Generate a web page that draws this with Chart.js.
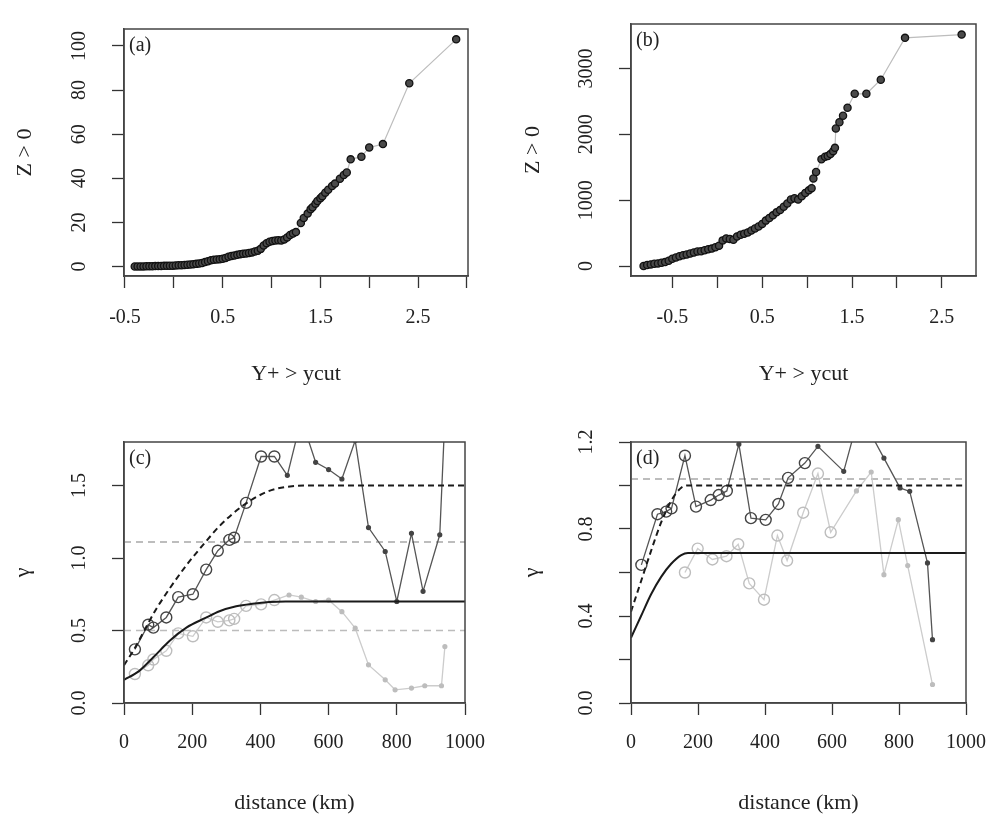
<!DOCTYPE html>
<html>
<head>
<meta charset="utf-8">
<script src="https://cdn.jsdelivr.net/npm/chart.js@4.4.1/dist/chart.umd.min.js"></script>
<style>
html,body{margin:0;padding:0;background:#fff;}
#wrap{position:relative;width:1002px;height:818px;overflow:hidden;background:#fff;}
canvas{position:absolute;}
</style>
</head>
<body>
<div id="wrap">
<canvas id="ca" width="501" height="409" style="left:0;top:0"></canvas>
<canvas id="cb" width="501" height="409" style="left:501px;top:0"></canvas>
<canvas id="cc" width="501" height="409" style="left:0;top:409px"></canvas>
<canvas id="cd" width="501" height="409" style="left:501px;top:409px"></canvas>
</div>
<script>
// ---------------- data: panel (a) ----------------
const aX = [-0.40,-0.37,-0.34,-0.31,-0.28,-0.25,-0.22,-0.19,-0.16,-0.13,-0.10,-0.07,-0.04,-0.01,0.02,0.05,0.08,0.11,0.14,0.17,0.20,0.23,0.26,0.29,0.32,0.35,0.38,0.41,0.44,0.47,0.50,0.53,0.56,0.59,0.62,0.65,0.68,0.71,0.74,0.77,0.80,0.83,0.86,0.89,0.92,0.95,0.98,1.01,1.04,1.07,1.10,1.13,1.16,1.19,1.22,1.25,1.30,1.33,1.37,1.40,1.42,1.45,1.47,1.50,1.52,1.55,1.58,1.62,1.65,1.70,1.74,1.77,1.81,1.92,2.00,2.14,2.41,2.89];
const aZ = [0.0,0.0,0.05,0.05,0.1,0.1,0.15,0.2,0.2,0.25,0.3,0.3,0.35,0.4,0.5,0.55,0.6,0.7,0.8,0.9,1.0,1.2,1.4,1.6,2.0,2.4,2.8,3.1,3.2,3.3,3.5,3.9,4.4,4.8,5.0,5.3,5.6,5.8,5.9,6.1,6.4,6.8,7.2,8.0,9.5,10.6,11.2,11.6,11.8,11.9,11.8,12.3,13.2,14.3,15.0,15.6,19.7,22.0,24.0,26.0,26.9,28.5,29.7,31.0,31.9,33.5,34.8,36.5,37.6,39.8,41.5,42.6,48.6,49.8,54.0,55.5,83.1,103.0];
const xTicksA = [-0.5,0,0.5,1,1.5,2,2.5,3];
const xLabelsA = ['-0.5','','0.5','','1.5','','2.5',''];
const yTicksA = [0,20,40,60,80,100];
const yLabelsA = ['0','20','40','60','80','100'];

// ---------------- data: panel (b) ----------------
const bX = [-0.82,-0.78,-0.74,-0.70,-0.66,-0.62,-0.58,-0.54,-0.50,-0.46,-0.42,-0.38,-0.34,-0.30,-0.26,-0.22,-0.18,-0.14,-0.10,-0.06,-0.02,0.02,0.06,0.10,0.14,0.18,0.22,0.26,0.30,0.34,0.38,0.42,0.46,0.50,0.54,0.58,0.62,0.66,0.70,0.74,0.78,0.82,0.86,0.90,0.94,0.98,1.02,1.05,1.07,1.10,1.16,1.20,1.23,1.26,1.29,1.31,1.32,1.36,1.40,1.45,1.53,1.66,1.82,2.09,2.72];
const bZ = [0,15,25,35,40,50,60,80,110,130,150,165,175,190,205,220,225,240,255,265,285,310,390,420,410,400,450,475,490,510,540,570,600,640,690,730,770,816,850,900,950,1010,1030,1010,1060,1110,1150,1183,1330,1428,1623,1660,1672,1700,1745,1795,2088,2185,2283,2405,2616,2616,2830,3466,3515];
const xTicksB = [-0.5,0,0.5,1,1.5,2,2.5];
const xLabelsB = ['-0.5','','0.5','','1.5','','2.5'];
const yTicksB = [0,1000,2000,3000];
const yLabelsB = ['0','1000','2000','3000'];

// ---------------- data: panel (c) ----------------
const darkDistC  = [32,71,86,124,159,202,241,275,309,323,358,402,441,479,520,562,600,639,678,717,766,800,843,877,926,960];
const darkGammaC = [0.37,0.54,0.52,0.59,0.73,0.75,0.92,1.05,1.125,1.14,1.38,1.70,1.70,1.57,1.96,1.66,1.61,1.545,1.81,1.21,1.045,0.70,1.17,0.77,1.16,3.0];
const grayDistC  = [32,71,86,124,159,202,241,275,309,323,358,402,441,484,520,562,600,639,678,717,766,795,843,882,931,941];
const grayGammaC = [0.20,0.26,0.30,0.36,0.48,0.46,0.59,0.56,0.57,0.58,0.67,0.68,0.71,0.745,0.73,0.70,0.71,0.63,0.516,0.263,0.16,0.091,0.103,0.119,0.119,0.389];
const dashDistC  = [0,32,71,95,134,183,239,280,348,423,493,552,600,1000];
const dashGammaC = [0.26,0.38,0.55,0.65,0.79,0.95,1.11,1.22,1.36,1.46,1.495,1.50,1.50,1.50];
const solidDistC  = [0,44,86,134,183,239,280,329,377,426,474,520,1000];
const solidGammaC = [0.16,0.22,0.315,0.43,0.52,0.587,0.633,0.667,0.685,0.697,0.70,0.70,0.70];
const varLinesC = [1.11,0.50];
const xTicksCD = [0,200,400,600,800,1000];
const xLabelsCD = ['0','200','400','600','800','1000'];
const yTicksC = [0,0.5,1.0,1.5];
const yLabelsC = ['0.0','0.5','1.0','1.5'];

// ---------------- data: panel (d) ----------------
const darkDistD  = [31,79,105,121,161,194,238,262,286,322,358,402,440,469,519,558,635,680,715,755,803,832,885,900];
const darkGammaD = [0.635,0.868,0.88,0.895,1.137,0.903,0.933,0.956,0.975,1.19,0.85,0.842,0.915,1.035,1.103,1.18,1.065,1.32,1.24,1.126,0.989,0.973,0.644,0.291];
const grayDistD  = [161,199,243,285,320,353,397,437,466,514,558,596,673,717,755,798,826,900];
const grayGammaD = [0.60,0.71,0.66,0.675,0.73,0.55,0.475,0.77,0.655,0.875,1.055,0.785,0.975,1.062,0.59,0.843,0.632,0.085];
const dashDistD  = [0,30,60,90,120,150,170,1000];
const dashGammaD = [0.42,0.56,0.70,0.83,0.93,0.99,1.0,1.0];
const solidDistD  = [0,30,60,90,120,150,170,1000];
const solidGammaD = [0.30,0.40,0.50,0.58,0.64,0.68,0.69,0.69];
const varLinesD = [1.03];
const yTicksD = [0,0.2,0.4,0.6,0.8,1.0,1.2];
const yLabelsD = ['0.0','','0.4','','0.8','','1.2'];

// ---------------- rendering ----------------
const SERIF = '"Liberation Serif", "Times New Roman", Times, serif';
Chart.defaults.font.family = SERIF;
Chart.defaults.color = '#222';
Chart.defaults.animation = false;

const zip = (xs, ys) => xs.map((x, i) => ({x: x, y: ys[i]}));

const boxPlugin = {
  id: 'rbox',
  afterDraw(chart, args, opts) {
    const {ctx, chartArea: a} = chart;
    ctx.save();
    ctx.strokeStyle = '#444';
    ctx.lineWidth = 1.5;
    ctx.strokeRect(a.left, a.top, a.right - a.left, a.bottom - a.top);
    ctx.font = '20px ' + SERIF;
    ctx.fillStyle = '#222';
    ctx.textBaseline = 'alphabetic';
    ctx.textAlign = 'left';
    ctx.fillText(opts.label, a.left + 5, a.top + 22);
    ctx.restore();
  }
};

function scaleX(p) {
  return {
    type: 'linear', position: 'bottom', min: p.xmin, max: p.xmax,
    afterBuildTicks: s => { s.ticks = p.xticks.map(v => ({value: v})); },
    afterFit: s => { s.height = p.xh; },
    ticks: {autoSkip: false, maxRotation: 0, minRotation: 0, padding: p.xtp,
            font: {size: 20}, color: '#222', callback: (v, i) => p.xlabels[i]},
    grid: {drawOnChartArea: false, drawTicks: true, tickLength: 12, tickColor: '#333', tickWidth: 1.3},
    border: {display: true, color: '#444', width: 1.5},
    title: {display: true, text: p.xtitle, font: {size: 22}, color: '#222', padding: {top: 0, bottom: p.xttp}}
  };
}
function scaleY(p) {
  return {
    type: 'linear', position: 'left', min: p.ymin, max: p.ymax,
    afterBuildTicks: s => { s.ticks = p.yticks.map(v => ({value: v})); },
    afterFit: s => { s.width = p.yw; },
    ticks: {autoSkip: false, minRotation: 90, maxRotation: 90, crossAlign: 'center', padding: p.ytp,
            font: {size: 20}, color: '#222', callback: (v, i) => p.ylabels[i]},
    grid: {drawOnChartArea: false, drawTicks: true, tickLength: 12, tickColor: '#333', tickWidth: 1.3},
    border: {display: true, color: '#444', width: 1.5},
    title: {display: true, text: p.ytitle, font: {size: 22}, color: '#222', padding: {top: p.yttp, bottom: 0}}
  };
}

function dotsDs(xs, ys) {
  return {data: zip(xs, ys), showLine: true, borderColor: '#bdbdbd', borderWidth: 1.2,
          pointRadius: 3.6, pointBackgroundColor: '#4a4a4a', pointBorderColor: '#111',
          pointBorderWidth: 1.3, pointHoverRadius: 3.6};
}
function seriesDs(xs, ys, color, lineColor, nCircles, smallSet, rad) {
  const isCircle = c => c.dataIndex < nCircles && !smallSet.includes(c.dataIndex);
  return {data: zip(xs, ys), showLine: true, borderColor: lineColor, borderWidth: 1.3,
          pointRadius: c => isCircle(c) ? rad : 1.9,
          pointHoverRadius: c => isCircle(c) ? rad : 1.9,
          pointBackgroundColor: c => isCircle(c) ? 'rgba(255,255,255,0)' : color,
          pointBorderColor: color, pointBorderWidth: 1.4};
}
function curveDs(xs, ys, color, width, dash) {
  return {data: zip(xs, ys), showLine: true, borderColor: color, borderWidth: width,
          borderDash: dash, pointRadius: 0, pointHoverRadius: 0,
          cubicInterpolationMode: 'monotone', fill: false};
}
function hlineDs(v, xmin, xmax, color, dash) {
  return {data: [{x: xmin, y: v}, {x: xmax, y: v}], showLine: true, borderColor: color,
          borderWidth: 1.6, borderDash: dash, pointRadius: 0, pointHoverRadius: 0, fill: false};
}

function makeChart(id, p, datasets) {
  return new Chart(document.getElementById(id), {
    type: 'scatter',
    data: {datasets: datasets},
    options: {
      responsive: false, animation: false, events: [],
      layout: {padding: p.pad},
      scales: {x: scaleX(p), y: scaleY(p)},
      plugins: {legend: {display: false}, tooltip: {enabled: false}, rbox: {label: p.label}}
    },
    plugins: [boxPlugin]
  });
}

makeChart('ca', {
  label: '(a)', xmin: -0.51, xmax: 3.011, ymin: -4.3, ymax: 107.7,
  xticks: xTicksA, xlabels: xLabelsA, yticks: yTicksA, ylabels: yLabelsA,
  xtitle: 'Y+ > ycut', ytitle: 'Z > 0',
  pad: {left: 0, right: 33, top: 15, bottom: 0}, yw: 124, xh: 133,
  xtp: 18, xttp: 21.8, ytp: 17, yttp: 11.8
}, [dotsDs(aX, aZ)]);

makeChart('cb', {
  label: '(b)', xmin: -0.96, xmax: 2.88, ymin: -151, ymax: 3676,
  xticks: xTicksB, xlabels: xLabelsB, yticks: yTicksB, ylabels: yLabelsB,
  xtitle: 'Y+ > ycut', ytitle: 'Z > 0',
  pad: {left: 0, right: 26, top: 15, bottom: 0}, yw: 130, xh: 133,
  xtp: 18, xttp: 21.8, ytp: 12, yttp: 18.8
}, [dotsDs(bX, bZ)]);

makeChart('cc', {
  label: '(c)', xmin: 0, xmax: 1000, ymin: 0, ymax: 1.8,
  xticks: xTicksCD, xlabels: xLabelsCD, yticks: yTicksC, ylabels: yLabelsC,
  xtitle: 'distance (km)', ytitle: 'γ',
  pad: {left: 0, right: 32, top: 33, bottom: 0}, yw: 124, xh: 115,
  xtp: 16, xttp: 1.5, ytp: 19.5, yttp: 9.8
}, [
  curveDs(solidDistC, solidGammaC, '#1a1a1a', 2, []),
  curveDs(dashDistC, dashGammaC, '#1a1a1a', 2, [6, 4]),
  seriesDs(darkDistC, darkGammaC, '#444', '#555', 13, [], 5.5),
  seriesDs(grayDistC, grayGammaC, '#bdbdbd', '#cccccc', 13, [], 5.5),
  hlineDs(varLinesC[0], 0, 1000, '#a8a8a8', [7, 5]),
  hlineDs(varLinesC[1], 0, 1000, '#bcbcbc', [7, 5])
]);

makeChart('cd', {
  label: '(d)', xmin: 0, xmax: 1000, ymin: 0, ymax: 1.2,
  xticks: xTicksCD, xlabels: xLabelsCD, yticks: yTicksD, ylabels: yLabelsD,
  xtitle: 'distance (km)', ytitle: 'γ',
  pad: {left: 0, right: 25, top: 33, bottom: 0}, yw: 130, xh: 115,
  xtp: 16, xttp: 1.5, ytp: 19.5, yttp: 17.8
}, [
  curveDs(solidDistD, solidGammaD, '#1a1a1a', 2, []),
  curveDs(dashDistD, dashGammaD, '#1a1a1a', 2, [6, 4]),
  seriesDs(darkDistD, darkGammaD, '#444', '#555', 15, [9], 5.5),
  seriesDs(grayDistD, grayGammaD, '#bdbdbd', '#cccccc', 12, [], 5.5),
  hlineDs(varLinesD[0], 0, 1000, '#a8a8a8', [7, 5])
]);
</script>
</body>
</html>
